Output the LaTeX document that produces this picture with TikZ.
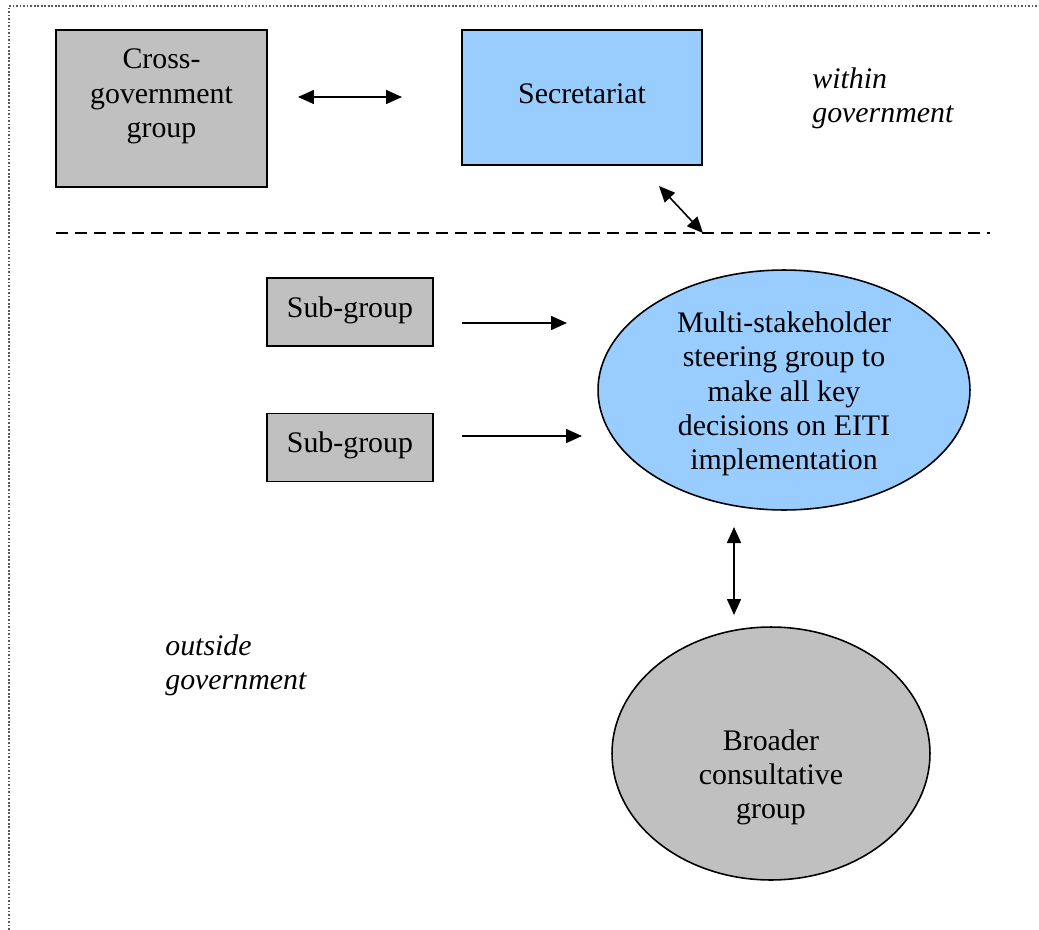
\documentclass[tikz,border=0pt]{standalone}
\usepackage{fontspec}
\setmainfont{Liberation Serif}
\usetikzlibrary{arrows.meta, shapes.geometric, positioning}
\definecolor{boxgray}{HTML}{C0C0C0}
\definecolor{boxblue}{HTML}{99CCFF}

\begin{document}
\begin{tikzpicture}[x=0.02cm, y=-0.02cm,
    every node/.style={font=\fontsize{17}{19.5}\selectfont},
    graybox/.style={rectangle, draw=black, fill=boxgray, line width=0.9pt, inner sep=0pt},
    bluebox/.style={rectangle, draw=black, fill=boxblue, line width=0.9pt, inner sep=0pt},
    blueoval/.style={ellipse, draw=black, fill=boxblue, line width=0.9pt, inner sep=0pt},
    grayoval/.style={ellipse, draw=black, fill=boxgray, line width=0.9pt, inner sep=0pt},
    txt/.style={align=center, inner sep=0pt},
    note/.style={align=left, anchor=west, inner sep=0pt, font=\fontsize{17}{19.5}\selectfont\itshape},
    link/.style={line width=0.9pt, -{Triangle[length=0.32cm, width=0.28cm]}},
    dbllink/.style={line width=0.9pt, {Triangle[length=0.32cm, width=0.28cm]}-{Triangle[length=0.32cm, width=0.28cm]}}]
\useasboundingbox (0,0) rectangle (1039,930);
% frame
\draw[gray!70!black, line width=0.7pt, dash pattern=on 1pt off 1pt] (9,930) -- (9,6) -- (1039,6);
% within government
\node[graybox, minimum width=4.22cm, minimum height=3.14cm] (cross) at (161.5,108.5) {};
\node[txt] (crosstxt) at (161.5,96.5) {Cross-\\government\\group};
\node[bluebox, minimum width=4.8cm, minimum height=2.7cm] (secr) at (582,97.5) {};
\node[txt] (secrtxt) at (582,93.5) {Secretariat};
\node[note] (within) at (812,98) {within\\government};
% divider
\coordinate (divL) at (56,233);
\coordinate (divR) at (990,233);
\draw[line width=0.8pt, dash pattern=on 0.24cm off 0.14cm] (divL) -- (divR);
% outside government
\node[graybox, minimum width=3.32cm, minimum height=1.36cm] (sub1) at (350,312) {};
\node[txt] (sub1txt) at (350,310) {Sub-group};
\node[graybox, minimum width=3.32cm, minimum height=1.36cm] (sub2) at (350,447.5) {};
\node[txt] (sub2txt) at (350,445.5) {Sub-group};
\node[blueoval, minimum width=7.44cm, minimum height=4.8cm] (msg) at (784,390) {};
\node[txt] (msgtxt) at (784,394) {Multi-stakeholder\\steering group to\\make all key\\decisions on EITI\\implementation};
\node[grayoval, minimum width=6.36cm, minimum height=5.06cm] (broad) at (771,753.5) {};
\node[txt] (broadtxt) at (771,777.5) {Broader\\consultative\\group};
\node[note] (outside) at (165,665) {outside\\government};
% connectors
\coordinate (a1s) at (298,97);  \coordinate (a1e) at (402,97);
\coordinate (a2s) at (659,186); \coordinate (a2e) at (703,233);
\coordinate (a3s) at (462,323); \coordinate (a3e) at (567,323);
\coordinate (a4s) at (462,436); \coordinate (a4e) at (582,436);
\coordinate (a5s) at (734,527); \coordinate (a5e) at (734,615);
\draw[dbllink] (a1s) -- (a1e);
\draw[dbllink] (a2s) -- (a2e);
\draw[link] (a3s) -- (a3e);
\draw[link] (a4s) -- (a4e);
\draw[dbllink] (a5s) -- (a5e);
\end{tikzpicture}
\end{document}
